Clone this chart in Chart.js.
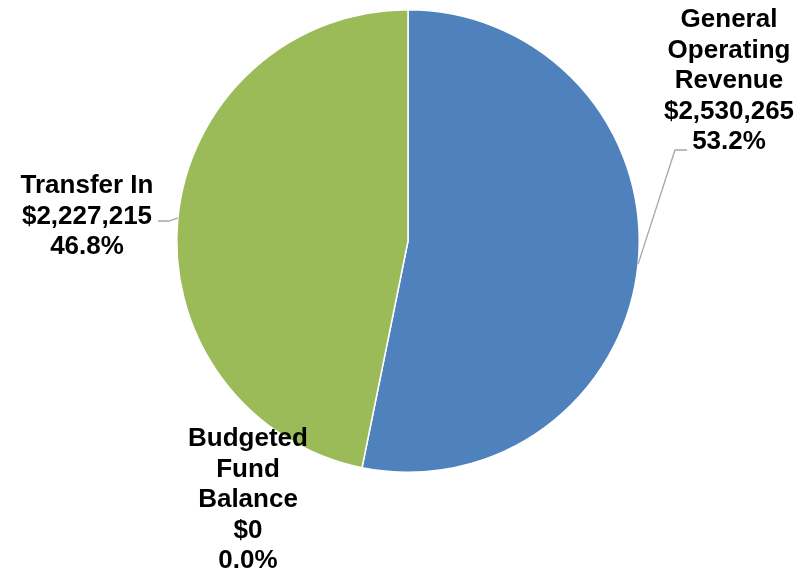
<!DOCTYPE html>
<html>
<head>
<meta charset="utf-8">
<script src="https://cdn.jsdelivr.net/npm/chart.js@4.4.1/dist/chart.umd.min.js"></script>
<style>
  html, body { margin: 0; padding: 0; background: #fff; }
  #wrap { width: 807px; height: 571px; }
</style>
</head>
<body>
<div id="wrap"><canvas id="budgetPie"></canvas></div>
<script>
const categories = ['General Operating Revenue', 'Budgeted Fund Balance', 'Transfer In'];
const labelLines = [['General', 'Operating', 'Revenue'], ['Budgeted', 'Fund', 'Balance'], ['Transfer In']];
const amounts = [2530265, 0, 2227215];
const colors = ['#4F81BD', '#4F81BD', '#9BBB59'];

// where each label block sits (centre x, first line y) and the leader elbow, in canvas px
const labelPos = [
    { x: 729, y: 19, elbow: [675, 150], end: 687 },
    { x: 248, y: 438, elbow: null },
    { x: 87, y: 185, elbow: [169, 221], end: 158 }
];

const total = amounts.reduce((a, b) => a + b, 0);

function money(v) {
    return '$' + v.toLocaleString('en-US');
}

const pieLabels = {
    id: 'pieLabels',
    afterDatasetsDraw(chart) {
        const ctx = chart.ctx;
        const arcs = chart.getDatasetMeta(0).data;
        ctx.save();
        arcs.forEach((arc, i) => {
            const pos = labelPos[i];
            const mid = (arc.startAngle + arc.endAngle) / 2;
            const ex = arc.x + Math.cos(mid) * arc.outerRadius;
            const ey = arc.y + Math.sin(mid) * arc.outerRadius;
            if (pos.elbow) {
                ctx.strokeStyle = '#A6A6A6';
                ctx.lineWidth = 1.3;
                ctx.beginPath();
                ctx.moveTo(ex, ey);
                ctx.lineTo(pos.elbow[0], pos.elbow[1]);
                ctx.lineTo(pos.end, pos.elbow[1]);
                ctx.stroke();
            }
            const lines = labelLines[i].concat([money(amounts[i]), (amounts[i] / total * 100).toFixed(1) + '%']);
            ctx.fillStyle = '#000';
            ctx.font = 'bold 26px "Liberation Sans", Arial, sans-serif';
            ctx.textAlign = 'center';
            ctx.textBaseline = 'middle';
            lines.forEach((t, k) => ctx.fillText(t, pos.x, pos.y + 1 + k * 30.5));
        });
        ctx.restore();
    }
};

const ctx = document.getElementById('budgetPie').getContext('2d');
const budgetPie = new Chart(ctx, {
    type: 'pie',
    data: {
        labels: categories,
        datasets: [{
            data: amounts,
            backgroundColor: colors,
            borderColor: '#FFFFFF',
            borderWidth: 1.5
        }]
    },
    options: {
        responsive: true,
        maintainAspectRatio: false,
        animation: false,
        layout: { padding: { left: 176, right: 167, top: 9, bottom: 98 } },
        plugins: {
            legend: { display: false },
            tooltip: { enabled: false }
        }
    },
    plugins: [pieLabels]
});
</script>
</body>
</html>
